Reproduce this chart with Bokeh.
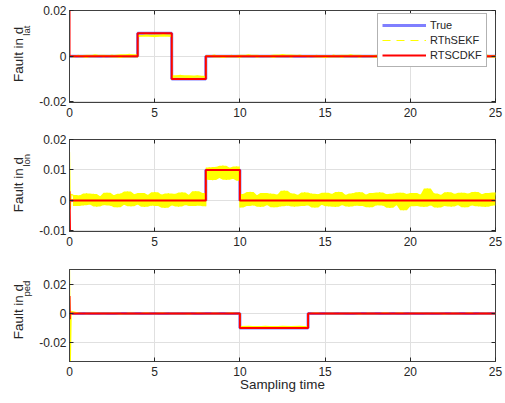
import numpy as np
from bokeh.plotting import figure
from bokeh.layouts import column, row
from bokeh.models import (FixedTicker, CustomJSTickFormatter, Legend,
                          LegendItem, Range1d, LinearAxis)
from bokeh.core.properties import value
from bokeh.embed import file_html
from bokeh.resources import INLINE

# ---------------- data ----------------
x_ticks = [0, 5, 10, 15, 20, 25]
legend_names = ["True", "RThSEKF", "RTSCDKF"]

# panel 1: d_lat
lat_breaks = [0, 4, 6, 8, 25]
lat_true = [0.0, 0.01, -0.01, 0.0]
lat_rth_level = [0.0, 0.009, -0.009, 0.0]
lat_rth_dt = 0.5
lat_rth_noise = [0.4, -0.5, 0.6, -0.3, 0.5, -0.6, 0.8, -0.4, 0.3, -0.5,
                 0.5, -0.4, 0.6, -0.5, 0.4, -0.3, 0.5, -0.6, 0.4, -0.5,
                 0.6, -0.4, 0.3, -0.5, 0.7, -0.4, 0.5, -0.3, 0.4, -0.6,
                 0.5, -0.5, 0.6, -0.4, 0.3, -0.5, 0.6, -0.4, 0.5, -0.3,
                 0.4, -0.6, 0.5, -0.4, 0.6, -0.5, 0.3, -0.4, 0.5, -0.6]
lat_rth_init_t = [0.0, 0.25]
lat_rth_init_v = [0.0004, -0.0005]
lat_rts_init_t = [0.0]
lat_rts_init_v = [0.02]
lat_yticks = [-0.02, 0.0, 0.02]
lat_yrange = [-0.0203, 0.02]

# panel 2: d_lon
lon_breaks = [0, 8, 10, 25]
lon_true = [0.0, 0.01, 0.0]
lon_rth_level = [0.0002, 0.009, 0.0002]
lon_rth_dt = 0.2
lon_rth_noise = [1.6, -2.0, 1.4, -1.8, 2.1, -1.5, 1.9, -2.2, 1.2, -1.7,
                 2.3, -1.9, 1.5, -2.4, 2.0, -1.6, 2.7, -2.1, 1.8, -1.5,
                 2.2, -2.3, 1.6, -1.9, 2.5, -2.0, 1.7, -2.6, 2.1, -1.8,
                 1.9, -2.2, 2.4, -1.7, 1.6, -2.0, 2.8, -1.9, 2.2, -2.1,
                 1.8, -2.3, 2.0, -1.6, 2.4, -2.2, 1.7, -1.9, 2.1, -2.5,
                 1.9, -2.0, 2.6, -1.8, 1.5, -2.3, 2.2, -1.7, 2.0, -2.4,
                 1.7, -2.1, 3.0, -1.9, 2.1, -2.2, 1.6, -2.0, 2.4, -1.8,
                 2.0, -2.5, 1.8, -1.6, 2.3, -2.1, 1.9, -2.3, 2.6, -1.7,
                 1.6, -2.2, 2.1, -1.9, 2.5, -2.0, 1.7, -2.4, 2.2, -1.8,
                 2.4, -1.9, 1.8, -2.6, 2.0, -1.7, 2.3, -3.4, 1.9, -2.1,
                 2.2, -2.0, 1.7, -2.3, 3.7, -1.8, 2.1, -2.5, 1.6, -2.0,
                 2.5, -2.2, 1.9, -1.7, 2.3, -2.4, 2.0, -1.8, 2.6, -2.1,
                 1.8, -2.3, 2.2, -1.9, 2.4]
lon_rth_init_t = [0.0, 0.05, 0.1]
lon_rth_init_v = [0.016, -0.003, 0.002]
lon_rts_init_t = [0.0, 0.03]
lon_rts_init_v = [0.003, -0.0105]
lon_yticks = [-0.01, 0.0, 0.01, 0.02]
lon_yrange = [-0.0102, 0.02]

# panel 3: d_ped
ped_breaks = [0, 10, 14, 25]
ped_true = [0.0, -0.01, 0.0]
ped_rth_level = [0.0, -0.009, 0.0]
ped_rth_dt = 0.5
ped_rth_noise = [0.2, -0.2, 0.3, -0.1, 0.2, -0.3, 0.1, -0.2, 0.2, -0.1,
                 0.3, -0.2, 0.1, -0.3, 0.2, -0.2, 0.1, -0.2, 0.3, -0.1,
                 0.2, -0.2, 0.1, -0.3, 0.2, -0.1, 0.2, -0.2, 0.3, -0.2,
                 0.1, -0.2, 0.2, -0.3, 0.1, -0.2, 0.2, -0.1, 0.3, -0.2,
                 0.2, -0.1, 0.2, -0.3, 0.1, -0.2, 0.2, -0.2, 0.1, -0.2]
ped_rth_init_t = [0.0, 0.05, 0.1]
ped_rth_init_v = [0.0303, -0.0331, 0.0015]
ped_rts_init_t = [0.0, 0.02]
ped_rts_init_v = [0.012, -0.004]
ped_yticks = [-0.02, 0.0, 0.02]
ped_yrange = [-0.0331, 0.0303]

# ---------------- helpers ----------------
FONT = "Liberation Sans"
TXT = "#262626"
FRAME_W = 428
FRAME_H = 92
LAB_W = 36


def step_xy(breaks, levels):
    xs, ys = [], []
    for j, lev in enumerate(levels):
        xs += [breaks[j], breaks[j + 1]]
        ys += [lev, lev]
    return xs, ys


def noisy_pts(breaks, levels, noise, dt, scale=1e-3):
    """Sample points of the noisy estimate: (t, level, offset)."""
    pts = []
    prev = None
    for i, n in enumerate(noise):
        t = round(dt * (i + 1), 6)
        k = 0
        for j in range(len(levels)):
            if t >= breaks[j]:
                k = j
        lev = levels[k]
        if prev is not None and lev != prev:
            pts.append((t, prev, n * scale))
        pts.append((t, lev, n * scale))
        prev = lev
    return pts


yfmt = CustomJSTickFormatter(code="""
if (Math.abs(tick) < 1e-9) { return '0'; }
return String(parseFloat(tick.toFixed(4)));
""")


def label_fig(height, frame_top, sub):
    lf = figure(width=LAB_W, height=height, x_range=Range1d(0, LAB_W),
                y_range=Range1d(0, height), output_backend="svg",
                toolbar_location=None, min_border=0, x_axis_location=None,
                y_axis_location=None, outline_line_color=None)
    lf.grid.visible = False
    main_w = 55.0
    sub_w = {"lat": 10.0, "lon": 12.7, "ped": 15.8}[sub]
    start = frame_top + FRAME_H / 2 + (main_w + sub_w) / 2   # from top
    main_c = start - main_w / 2
    sub_c = start - main_w - 0.5 - sub_w / 2
    lf.text(x=[18], y=[height - main_c], text=["Fault in d"], angle=np.pi / 2,
            text_align="center", text_baseline="middle",
            text_font=value(FONT), text_font_size=value("13.4px"),
            text_color=TXT)
    lf.text(x=[25.5], y=[height - sub_c], text=[sub],
            angle=np.pi / 2, text_align="center", text_baseline="middle",
            text_font=value(FONT), text_font_size=value("9.5px"),
            text_color=TXT)
    return lf


def mirror_axis(ticks):
    ax = LinearAxis(ticker=FixedTicker(ticks=ticks),
                    formatter=CustomJSTickFormatter(code="return '';"))
    ax.major_tick_in = 4
    ax.major_tick_out = 0
    ax.minor_tick_line_color = None
    ax.axis_line_color = None
    ax.major_tick_line_color = "#262626"
    ax.major_label_standoff = 0
    return ax


def make_panel(height, top, bottom, yrange, yticks, breaks, true_lv, rth_lv,
               noise, dt, rth_t, rth_v, rts_t, rts_v, show_xlabel=False):
    p = figure(width=505 - LAB_W, height=height, x_range=Range1d(0, 25),
               y_range=Range1d(*yrange), output_backend="svg",
               toolbar_location=None, min_border_left=67 - LAB_W,
               min_border_right=505 - LAB_W - (67 - LAB_W) - FRAME_W,
               min_border_top=top, min_border_bottom=bottom)
    p.background_fill_color = "white"
    p.border_fill_color = "white"
    p.outline_line_color = "#404040"
    p.outline_line_width = 1

    xax = p.below[0]
    yax = p.left[0]
    for ax, ticks in ((xax, x_ticks), (yax, yticks)):
        ax.ticker = FixedTicker(ticks=ticks)
        ax.major_tick_in = 4
        ax.major_tick_out = 0
        ax.minor_tick_line_color = None
        ax.axis_line_color = "#404040"
        ax.major_tick_line_color = "#262626"
        ax.major_label_text_font = FONT
        ax.major_label_text_font_size = "12px"
        ax.major_label_text_color = TXT
    yax.formatter = yfmt
    xax.major_label_standoff = 5
    yax.major_label_standoff = 3
    if show_xlabel:
        xax.axis_label = "Sampling time"
        xax.axis_label_text_font = FONT
        xax.axis_label_text_font_size = "13.4px"
        xax.axis_label_text_font_style = "normal"
        xax.axis_label_text_color = TXT
        xax.axis_label_standoff = -2
    p.add_layout(mirror_axis(x_ticks), "above")
    p.add_layout(mirror_axis(yticks), "right")

    p.xgrid.grid_line_color = "#e0e0e0"
    p.ygrid.grid_line_color = "#e0e0e0"
    p.xgrid.ticker = FixedTicker(ticks=x_ticks)
    p.ygrid.ticker = FixedTicker(ticks=yticks)

    # true
    tx, ty = step_xy(breaks, true_lv)
    r_true = p.line(tx, ty, line_color="blue", line_alpha=0.5, line_width=3)

    # RThSEKF noisy estimate: solid band of the noise plus the sample line
    pts = noisy_pts(breaks, rth_lv, noise, dt)
    bx, blo, bhi = [], [], []
    for i, (t, lev, off) in enumerate(pts):
        w = [o for (_, l2, o) in pts[max(0, i - 1):i + 2] if l2 == lev]
        bx.append(t)
        blo.append(lev + min(w))
        bhi.append(lev + max(w))
    p.varea(x=bx, y1=blo, y2=bhi, fill_color="#ffff00")
    nx = list(rth_t) + [t for (t, _, _) in pts]
    ny = list(rth_v) + [lev + off for (_, lev, off) in pts]
    p.line(nx, ny, line_color="#ffff00", line_width=1.2)
    mx, my = step_xy(breaks, rth_lv)
    mx[0] = rth_t[-1]
    r_rth = p.line(mx, my, line_color="#ffff00", line_width=1.2,
                   line_dash="8 6")
    # RTSCDKF
    rx, ry = step_xy(breaks, true_lv)
    r_rts = p.line(list(rts_t) + rx, list(rts_v) + ry, line_color="#ff0000",
                   line_width=2)
    return p, (r_true, r_rth, r_rts)


H1, T1 = 128, 10
H2, T2 = 129, 11
H3, T3 = 144, 12

p1, rs = make_panel(H1, T1, H1 - T1 - FRAME_H, lat_yrange, lat_yticks,
                    lat_breaks, lat_true, lat_rth_level, lat_rth_noise,
                    lat_rth_dt, lat_rth_init_t, lat_rth_init_v,
                    lat_rts_init_t, lat_rts_init_v)
p2, _ = make_panel(H2, T2, H2 - T2 - FRAME_H, lon_yrange, lon_yticks,
                   lon_breaks, lon_true, lon_rth_level, lon_rth_noise,
                   lon_rth_dt, lon_rth_init_t, lon_rth_init_v,
                   lon_rts_init_t, lon_rts_init_v)
p3, _ = make_panel(H3, T3, H3 - T3 - FRAME_H, ped_yrange, ped_yticks,
                   ped_breaks, ped_true, ped_rth_level, ped_rth_noise,
                   ped_rth_dt, ped_rth_init_t, ped_rth_init_v,
                   ped_rts_init_t, ped_rts_init_v, show_xlabel=True)

legend = Legend(items=[LegendItem(label=n, renderers=[r])
                       for n, r in zip(legend_names, rs)],
                location=(308, 35))
legend.padding = 4
legend.spacing = 1
legend.margin = 0
legend.glyph_width = 44
legend.glyph_height = 14
legend.label_height = 14
legend.label_standoff = 4
legend.label_text_font = FONT
legend.label_text_font_size = "11px"
legend.label_text_color = TXT
legend.border_line_color = "#666666"
legend.border_line_width = 1
legend.background_fill_color = "white"
legend.background_fill_alpha = 1.0
p1.add_layout(legend)

layout = column(
    row(label_fig(H1, T1, "lat"), p1, spacing=0),
    row(label_fig(H2, T2, "lon"), p2, spacing=0),
    row(label_fig(H3, T3, "ped"), p3, spacing=0),
    spacing=0)
open("out.html", "w").write(file_html(layout, INLINE))
